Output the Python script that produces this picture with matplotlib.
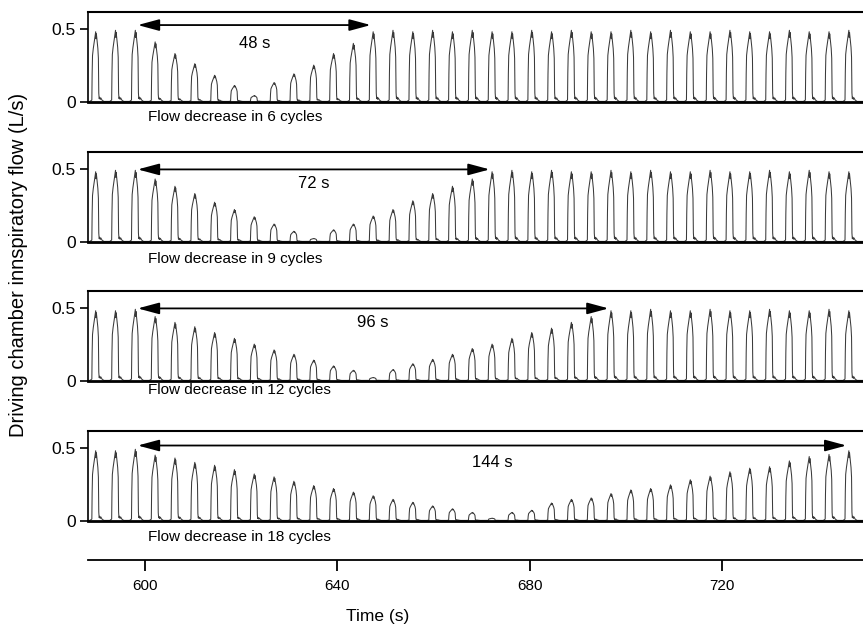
import numpy as np
import matplotlib.pyplot as plt

plt.rcParams['font.family'] = ['Liberation Sans', 'DejaVu Sans']

# breath timing (s)
first_peak = 589.8
period = 4.12

# peak inspiratory flow of every breath (L/s), one list per panel
amp_6 = [0.48, 0.49, 0.49,
         0.41, 0.33, 0.26, 0.18, 0.11, 0.04,
         0.13, 0.19, 0.25, 0.33, 0.40,
         0.48, 0.49, 0.48, 0.49, 0.48, 0.49, 0.48, 0.48, 0.49, 0.48,
         0.49, 0.48, 0.48, 0.49, 0.48, 0.49, 0.48, 0.48, 0.49, 0.48,
         0.48, 0.49, 0.48, 0.48, 0.49]
amp_9 = [0.48, 0.49, 0.49,
         0.43, 0.38, 0.33, 0.27, 0.22, 0.17, 0.12, 0.07, 0.02,
         0.08, 0.12, 0.175, 0.22, 0.28, 0.33, 0.38, 0.43,
         0.48, 0.49, 0.48, 0.49, 0.48, 0.48, 0.49, 0.48, 0.49, 0.48,
         0.48, 0.49, 0.48, 0.48, 0.49, 0.48, 0.49, 0.48, 0.48]
amp_12 = [0.48, 0.48, 0.49,
          0.44, 0.40, 0.37, 0.33, 0.29, 0.25, 0.21, 0.18, 0.14, 0.10, 0.07, 0.02,
          0.075, 0.115, 0.145, 0.18, 0.22, 0.25, 0.29, 0.33, 0.36, 0.40, 0.44,
          0.48, 0.48, 0.49, 0.48, 0.48, 0.49, 0.48, 0.48, 0.49, 0.48,
          0.48, 0.49, 0.48]
amp_18 = [0.48, 0.48, 0.49,
          0.45, 0.43, 0.40, 0.38, 0.35, 0.32, 0.30, 0.27, 0.24, 0.22,
          0.195, 0.17, 0.145, 0.125, 0.10, 0.08, 0.055, 0.015,
          0.055, 0.07, 0.12, 0.145, 0.155, 0.185, 0.21, 0.22, 0.245,
          0.28, 0.305, 0.335, 0.36, 0.37, 0.41, 0.44, 0.455, 0.48]

cycles = [6, 9, 12, 18]
durations = ['48 s', '72 s', '96 s', '144 s']
amps = [amp_6, amp_9, amp_12, amp_18]

# shape of one breath: offset from the peak (s) and fraction of the peak
shape_t = [-1.2, -0.8, -0.74, -0.66, -0.5, -0.28, -0.1, 0.0, 0.07, 0.14,
           0.3, 0.45, 0.56, 0.64, 0.72, 0.82, 0.94, 1.07, 1.3, 1.7]
shape_f = [0.0, 0.02, 0.40, 0.66, 0.76, 0.87, 0.95, 1.0, 0.9, 0.97,
           0.86, 0.76, 0.62, 0.12, 0.04, 0.06, 0.03, 0.05, 0.02, 0.0]

xmin, xmax = 588.2, 749.3
zero_px = [102, 242, 381, 521]
arrow_y = [0.53, 0.50, 0.50, 0.52]
note_px = [15, 17, 9, 16]

fig = plt.figure(figsize=(8.63, 6.27), dpi=100)
H = 627.0
for i in range(4):
    ax = fig.add_axes([88 / 863, 1 - zero_px[i] / H, 1 - 88 / 863, 90 / H])
    t = [xmin]
    y = [0.004]
    for k, a in enumerate(amps[i]):
        tp = first_peak + k * period
        t.extend(tp + np.array(shape_t))
        y.extend(0.004 + a * np.array(shape_f))
    t.append(xmax)
    y.append(0.004)
    ax.plot(t, y, color='#3a3a3a', lw=0.75)
    ax.set_xlim(xmin, xmax)
    ax.set_ylim(0, 0.62)
    ax.spines['right'].set_visible(False)
    ax.spines['bottom'].set_linewidth(2.0)
    ax.spines['top'].set_linewidth(1.5)
    ax.spines['left'].set_linewidth(1.2)
    ax.set_xticks([])
    ax.set_yticks([0, 0.5])
    ax.set_yticklabels(['0', '0.5'])
    ax.tick_params(axis='y', length=6, width=1.2, labelsize=12.5, pad=3)

    n = cycles[i]
    t_start = first_peak + 2 * period + 0.5
    t_end = first_peak + (2 + 2 * n) * period - 0.5
    ax.annotate('', xy=(t_start, arrow_y[i]), xytext=(t_end, arrow_y[i]),
                arrowprops=dict(arrowstyle='<|-|>,head_length=1.3,head_width=0.35',
                                color='black', lw=1.3,
                                mutation_scale=10, shrinkA=0, shrinkB=0))
    ax.text((t_start + t_end) / 2, 0.40, durations[i], ha='center', va='center',
            fontsize=12)
    ax.annotate('Flow decrease in %d cycles' % n, xy=(600.7, 0), xycoords='data',
                xytext=(0, -note_px[i] * 0.72), textcoords='offset points',
                ha='left', va='center', fontsize=11, annotation_clip=False)

axx = fig.add_axes([88 / 863, 1 - 560 / H, 1 - 88 / 863, 0.001])
axx.set_xlim(xmin, xmax)
for s in ['left', 'right', 'top']:
    axx.spines[s].set_visible(False)
axx.spines['bottom'].set_linewidth(1.3)
axx.set_yticks([])
axx.set_xticks([600, 640, 680, 720])
axx.tick_params(axis='x', length=8, width=1.3, labelsize=11, pad=6)

fig.text(378 / 863, 1 - 617 / H, 'Time (s)', ha='center', va='center', fontsize=12.5)
fig.text(19 / 863, 1 - 265 / H, 'Driving chamber innspiratory flow (L/s)',
         rotation=90, ha='center', va='center', fontsize=14.5)

fig.savefig('out.png', dpi=100)
